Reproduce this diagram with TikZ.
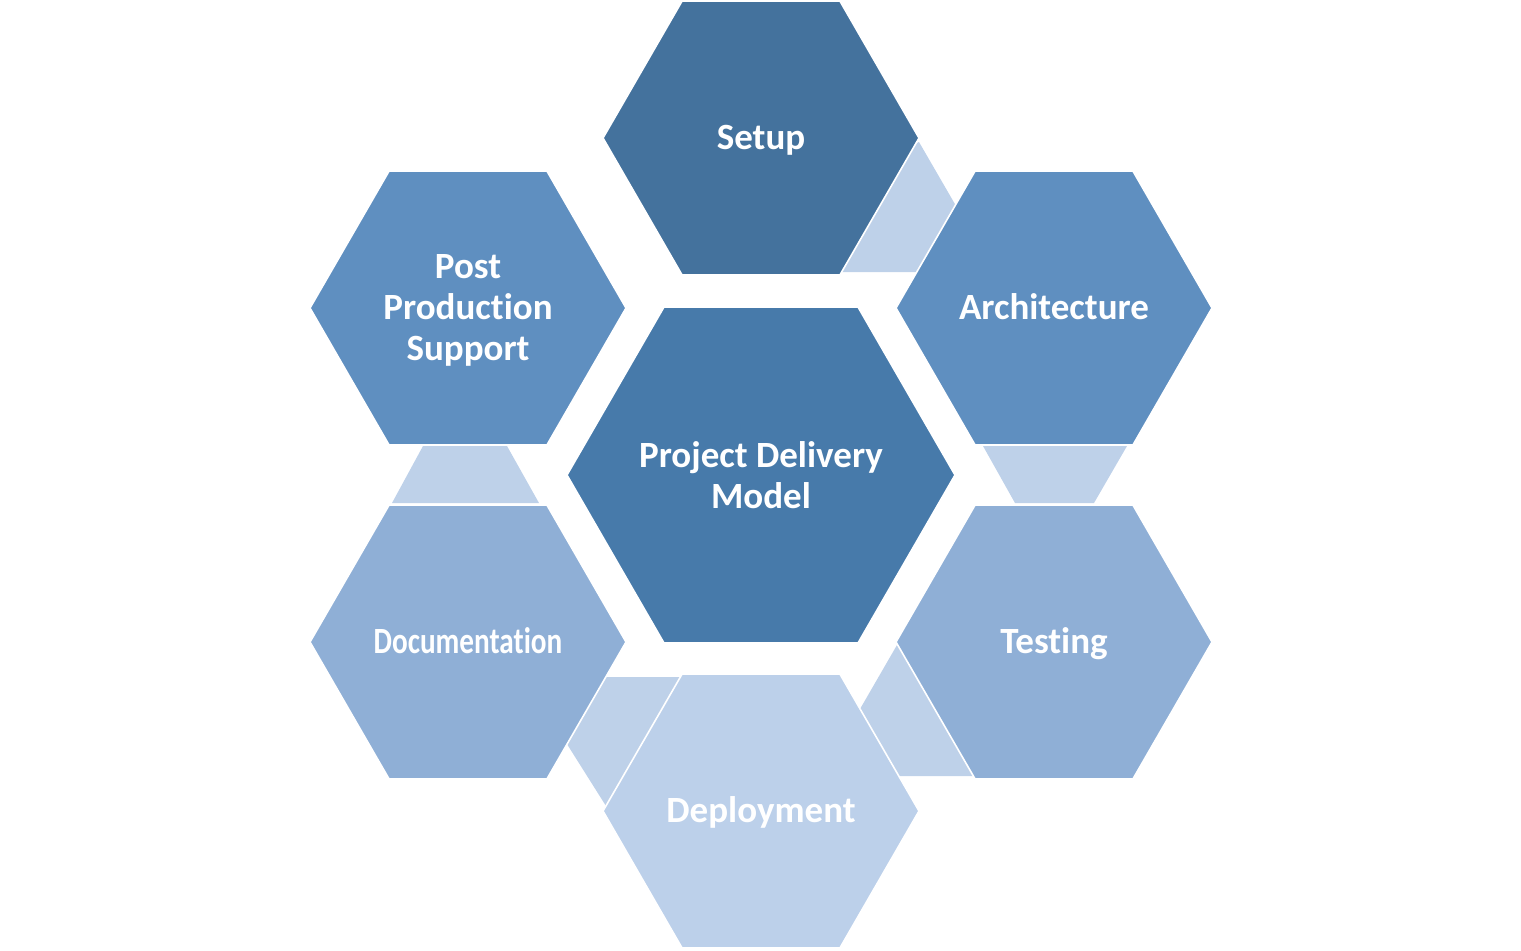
\documentclass[tikz,border=0pt]{standalone}
\usepackage{fontspec}
\setmainfont{Carlito}[Ligatures={NoCommon}]
\usepackage{graphicx}

\definecolor{SetupHex}{HTML}{44729D}
\definecolor{CoreHex}{HTML}{477AAA}
\definecolor{MidHex}{HTML}{5F8FC0}
\definecolor{PaleHex}{HTML}{8FAFD6}
\definecolor{LightHex}{HTML}{BCD0EA}
\definecolor{Joint}{HTML}{BED1E9}

\tikzset{
  hexlabel/.style={text=white, font=\fontsize{18.5}{20.5}\selectfont\bfseries, align=center},
  oneline/.style={hexlabel, text height=0.7em, text depth=0.1em, yshift=-2.5pt},
  hexborder/.style={draw=white, line width=0.8}
}

\begin{document}
\begin{tikzpicture}[x=0.5pt, y=-0.5pt]
 \useasboundingbox (0,0) rectangle (1521,950);

 %%%%%%%%%% Centres des hexagones %%%%%%%%%%
 \coordinate (S) at (761,138);
 \coordinate (A) at (1054,308);
 \coordinate (T) at (1054,642);
 \coordinate (Dp) at (761,811);
 \coordinate (Dc) at (468,642);
 \coordinate (P) at (468,308);
 \coordinate (C) at (761,475);

 %%%%%%%%%% Joints light blue %%%%%%%%%%
 \fill [color=Joint] (900,150) -- (919,142) -- (985,256) -- (985,272) -- (830,272) -- cycle ;
 \fill [color=Joint] (983,446) -- (1127,446) -- (1094,503) -- (1015,503) -- cycle ;
 \fill [color=Joint] (897,645) -- (845,735) -- (870,776) -- (985,776) -- (910,645) -- cycle ;
 \fill [color=Joint] (560,733) -- (596,677) -- (700,677) -- (700,806) -- (606,806) -- cycle ;
 \fill [color=Joint] (423,446) -- (507,446) -- (539,503) -- (392,503) -- cycle ;

 %%%%%%%%%% Outer hexagons %%%%%%%%%%
 \filldraw [hexborder, fill=SetupHex] (S) ++(0:158) -- ++(120:158) -- ++(180:158) -- ++(240:158) -- ++(300:158) -- ++(0:158) -- cycle ;
 \filldraw [hexborder, fill=MidHex] (A) ++(0:158) -- ++(120:158) -- ++(180:158) -- ++(240:158) -- ++(300:158) -- ++(0:158) -- cycle ;
 \filldraw [hexborder, fill=PaleHex] (T) ++(0:158) -- ++(120:158) -- ++(180:158) -- ++(240:158) -- ++(300:158) -- ++(0:158) -- cycle ;
 \filldraw [hexborder, fill=LightHex] (Dp) ++(0:158) -- ++(120:158) -- ++(180:158) -- ++(240:158) -- ++(300:158) -- ++(0:158) -- cycle ;
 \filldraw [hexborder, fill=PaleHex] (Dc) ++(0:158) -- ++(120:158) -- ++(180:158) -- ++(240:158) -- ++(300:158) -- ++(0:158) -- cycle ;
 \filldraw [hexborder, fill=MidHex] (P) ++(0:158) -- ++(120:158) -- ++(180:158) -- ++(240:158) -- ++(300:158) -- ++(0:158) -- cycle ;

 %%%%%%%%%% Centre hexagon %%%%%%%%%%
 \filldraw [hexborder, fill=CoreHex] (C) ++(0:194) -- ++(120:194) -- ++(180:194) -- ++(240:194) -- ++(300:194) -- ++(0:194) -- cycle ;

 %%%%%%%%%% Labels %%%%%%%%%%
 \node [oneline] (setup) at (S) {Setup};
 \node [oneline] (archi) at (A) {Architecture};
 \node [oneline] (testing) at (T) {Testing};
 \node [oneline] (deploy) at (Dp) {Deployment};
 \node [oneline] (docu) at (Dc) {\scalebox{0.79}[1]{Documentation}};
 \node [hexlabel] (support) at (468,310) {Post\\Production\\Support};
 \node [hexlabel] (model) at (C) {Project Delivery\\Model};

\end{tikzpicture}
\end{document}
